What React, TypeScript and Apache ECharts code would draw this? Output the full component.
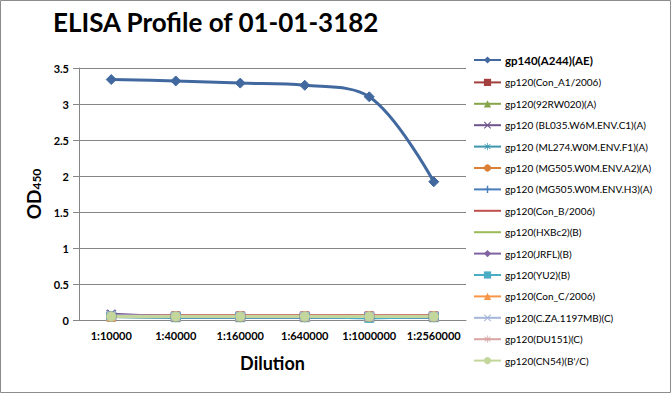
import React, { useEffect, useRef } from "react";
import * as echarts from "echarts";

const categories = ["1:10000", "1:40000", "1:160000", "1:640000", "1:1000000", "1:2560000"];
const yTicks = { min: 0, max: 3.5, interval: 0.5 };

const seriesNames = [
  "gp140(A244)(AE)",
  "gp120(Con_A1/2006)",
  "gp120(92RW020)(A)",
  "gp120 (BL035.W6M.ENV.C1)(A)",
  "gp120 (ML274.W0M.ENV.F1)(A)",
  "gp120 (MG505.W0M.ENV.A2)(A)",
  "gp120 (MG505.W0M.ENV.H3)(A)",
  "gp120(Con_B/2006)",
  "gp120(HXBc2)(B)",
  "gp120(JRFL)(B)",
  "gp120(YU2)(B)",
  "gp120(Con_C/2006)",
  "gp120(C.ZA.1197MB)(C)",
  "gp120(DU151)(C)",
  "gp120(CN54)(B'/C)",
];

const seriesValues: number[][] = [
  [3.34, 3.32, 3.29, 3.26, 3.1, 1.92],
  [0.05, 0.05, 0.05, 0.05, 0.05, 0.05],
  [0.05, 0.04, 0.04, 0.04, 0.04, 0.04],
  [0.08, 0.04, 0.04, 0.04, 0.04, 0.04],
  [0.05, 0.04, 0.04, 0.04, 0.03, 0.04],
  [0.05, 0.05, 0.05, 0.05, 0.05, 0.05],
  [0.05, 0.04, 0.04, 0.04, 0.04, 0.04],
  [0.06, 0.06, 0.06, 0.06, 0.06, 0.06],
  [0.05, 0.05, 0.05, 0.05, 0.05, 0.05],
  [0.06, 0.05, 0.04, 0.04, 0.04, 0.04],
  [0.05, 0.04, 0.04, 0.04, 0.03, 0.04],
  [0.05, 0.05, 0.05, 0.05, 0.05, 0.05],
  [0.06, 0.05, 0.05, 0.05, 0.05, 0.05],
  [0.05, 0.05, 0.05, 0.05, 0.05, 0.05],
  [0.05, 0.05, 0.05, 0.05, 0.05, 0.05],
];

const colors = [
  "#4169A0", "#A3403D", "#86A44A", "#6E548D", "#3D96AE", "#DA8137", "#4A7EBB",
  "#C0504D", "#9BBB59", "#8064A2", "#4BACC6", "#F79646", "#A5B6D8", "#D8A5A4", "#C3D69B",
];

const plusPath = "path://M4,0L6,0L6,4L10,4L10,6L6,6L6,10L4,10L4,6L0,6L0,4L4,4Z";
const crossPath = "path://M1,0L5,4L9,0L10,1L6,5L10,9L9,10L5,6L1,10L0,9L4,5L0,1Z";
const starPath = "path://M4.5,0L5.5,0L5.5,3.8L8.7,1.3L9.4,2.1L6.3,4.5L10,4.5L10,5.5L6.3,5.5L9.4,7.9L8.7,8.7L5.5,6.2L5.5,10L4.5,10L4.5,6.2L1.3,8.7L0.6,7.9L3.7,5.5L0,5.5L0,4.5L3.7,4.5L0.6,2.1L1.3,1.3L4.5,3.8Z";

const symbols = [
  "diamond", "rect", "triangle", crossPath, starPath, "circle", plusPath,
  "circle", "circle", "diamond", "rect", "triangle", crossPath, starPath, "circle",
];
const hidden = [7, 8];

export default function App() {
  const ref = useRef<HTMLDivElement>(null);
  useEffect(() => {
    document.body.style.margin = "0";
    const chart = echarts.init(ref.current!, null, { renderer: "svg" });
    const font = "Lato, 'Open Sans', sans-serif";
    chart.setOption({
      animation: false,
      backgroundColor: "#fff",
      textStyle: { fontFamily: font },
      title: {
        text: "ELISA Profile of 01-01-3182",
        left: 48,
        top: 4,
        textStyle: { fontFamily: font, fontSize: 26, fontWeight: "bold", color: "#000" },
      },
      graphic: [
        {
          type: "rect",
          shape: { x: 0.5, y: 0.5, width: 670, height: 392 },
          style: { fill: "none", stroke: "#8c8c8c", lineWidth: 1 },
          silent: true,
        },
      ],
      legend: {
        orient: "vertical",
        left: 468,
        top: 49,
        itemWidth: 27,
        itemHeight: 9,
        itemGap: 11.4,
        textStyle: { fontFamily: font, fontSize: 10, color: "#000", padding: [0, 0, 0, -1] },
        data: seriesNames.map((n, i) => {
          if (i === 0) return { name: n, textStyle: { fontWeight: "bold", fontSize: 11.5 } };
          if (hidden.includes(i)) return { name: n, itemStyle: { opacity: 0 } };
          return { name: n };
        }),
      },
      grid: { left: 79, right: 206, top: 68, bottom: 74 },
      xAxis: {
        type: "category",
        data: categories,
        boundaryGap: true,
        name: "Dilution",
        nameLocation: "middle",
        nameGap: 34,
        nameTextStyle: { fontFamily: font, fontSize: 18, fontWeight: "bold", color: "#000" },
        axisLine: { lineStyle: { color: "#868686", width: 1 } },
        axisTick: { show: false },
        axisLabel: { fontFamily: font, fontSize: 11, fontWeight: "bold", color: "#000", margin: 10, interval: 0 },
      },
      yAxis: {
        type: "value",
        min: yTicks.min,
        max: yTicks.max,
        interval: yTicks.interval,
        name: "{a|OD}{b|450}",
        nameLocation: "middle",
        nameGap: 36,
        nameRotate: 90,
        nameTextStyle: {
          rich: {
            a: { fontFamily: font, fontSize: 19, fontWeight: "bold", color: "#000", verticalAlign: "bottom" },
            b: { fontFamily: font, fontSize: 12, fontWeight: "bold", color: "#000", padding: [8, 0, 0, 0], verticalAlign: "bottom" },
          },
        },
        axisLine: { show: true, lineStyle: { color: "#868686", width: 1 } },
        axisTick: { show: true, length: 6, lineStyle: { color: "#868686" } },
        splitLine: { lineStyle: { color: "#868686", width: 1 } },
        axisLabel: { fontFamily: font, fontSize: 11, fontWeight: "bold", color: "#000", margin: 10 },
      },
      series: seriesNames.map((n, i) => ({
        name: n,
        type: "line",
        data: seriesValues[i],
        smooth: i === 0 ? 0.35 : false,
        symbol: symbols[i],
        symbolSize: i === 0 ? 10 : 9,
        showSymbol: !hidden.includes(i),
        z: i === 0 ? 10 : 2,
        lineStyle: { color: colors[i], width: 3 },
        itemStyle: { color: colors[i], borderColor: colors[i] },
        emphasis: { disabled: true },
      })),
    });
    return () => chart.dispose();
  }, []);
  return <div ref={ref} style={{ width: 672, height: 394, position: "absolute", left: 0, top: 0 }} />;
}
